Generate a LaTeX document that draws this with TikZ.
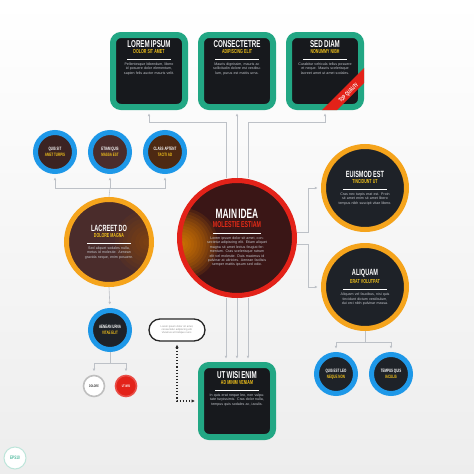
\documentclass[tikz,border=0pt]{standalone}
\usepackage{fontspec}
\setmainfont{Liberation Sans}
\newfontfamily\condfont{Liberation Sans}[FakeStretch=0.62]
\usetikzlibrary{arrows.meta,backgrounds,positioning}

\definecolor{linegray}{HTML}{BDC1C7}
\definecolor{boxgreen}{HTML}{22A784}
\definecolor{boxdark}{HTML}{17191D}
\definecolor{ringblue}{HTML}{1E98E8}
\definecolor{ringorange}{HTML}{F5A41C}
\definecolor{ringred}{HTML}{E32219}
\definecolor{navydark}{HTML}{1E2228}
\definecolor{maroon}{HTML}{3A1616}
\definecolor{browndark}{HTML}{4A2C2B}
\definecolor{gold}{HTML}{F2C21B}
\definecolor{bodygray}{HTML}{C3C6CC}

\newcommand{\hugettl}{\condfont\bfseries\fontsize{13.5}{14}\selectfont}
\newcommand{\bigttl}{\condfont\bfseries\fontsize{10}{11}\selectfont}
\newcommand{\midttl}{\condfont\bfseries\fontsize{9}{10}\selectfont}
\newcommand{\subttl}{\condfont\bfseries\fontsize{5.8}{6.4}\selectfont}
\newcommand{\smallttl}{\condfont\bfseries\fontsize{4.8}{5.6}\selectfont}
\newcommand{\bodytxt}{\fontsize{3.6}{4.4}\selectfont}
\newcommand{\tinytxt}{\fontsize{2.6}{3.2}\selectfont}
\newcommand{\whitebar}[1]{\textcolor{white}{\rule{#1}{0.9pt}}}

\tikzset{
  conn/.style={draw=linegray, line width=0.6pt},
  arr/.style={conn, -{Latex[length=2.6pt,width=2.8pt]}, shorten >=3.5pt},
  dotarr/.style={draw=black!85, line width=1.1pt, dotted,
    {Latex[length=3.5pt,width=3.5pt]}-{Latex[length=3.5pt,width=3.5pt]},
    shorten <=3pt, shorten >=3pt},
  card/.style={draw=boxgreen, line width=6pt, fill=boxdark,
    rounded corners=8pt, minimum size=72pt, inner sep=0pt},
  cardtext/.style={anchor=north, inner sep=0pt, text width=56pt,
    align=center, font=\bodytxt, text=bodygray},
  ringbig/.style={circle, line width=5pt, inner sep=0pt, align=center,
    text width=56pt, font=\bodytxt, text=bodygray},
  ringsmall/.style={circle, draw=ringblue, line width=5pt, minimum size=39pt,
    inner sep=0pt, align=center, font=\smallttl, text=white, fill=#1},
  ringsmall/.default=navydark,
  minicirc/.style={circle, line width=1.6pt, minimum size=21pt, inner sep=0pt,
    font=\condfont\bfseries\fontsize{3.6}{4}\selectfont},
}

\begin{document}
\begin{tikzpicture}[x=1pt,y=-1pt]
\useasboundingbox (0,0) rectangle (474,474);

% top cards
\node[card] (lorem) at (149,71) {};
\node[cardtext] (loremtxt) at ([yshift=-8pt]lorem.north)
  {{\bigttl\color{white}LOREM IPSUM}\\[2pt]{\subttl\color{gold}DOLOR SIT AMET}\\[1.5pt]
   \whitebar{44pt}\\[1.5pt]
   Pellentesque bibendum, libero id posuere dolor elementum, sapien felis auctor mauris velit.};
\node[card] (consec) at (237,71) {};
\node[cardtext] (consectxt) at ([yshift=-8pt]consec.north)
  {{\bigttl\color{white}CONSECTETRE}\\[2pt]{\subttl\color{gold}ADIPISCING ELIT}\\[1.5pt]
   \whitebar{44pt}\\[1.5pt]
   Mauris dignissim, mauris ac sollicitudin dolore est vestibulum, purus est mattis urna.};
\node[card] (seddiam) at (325,71) {};
\node[cardtext] (seddiamtxt) at ([yshift=-8pt]seddiam.north)
  {{\bigttl\color{white}SED DIAM}\\[2pt]{\subttl\color{gold}NONUMMY NIBH}\\[1.5pt]
   \whitebar{44pt}\\[1.5pt]
   Curabitur vehicula tellus posuere et neque. Mauris scelerisque laoreet amet ut amet sodales.};

% ribbon on the third card
\begin{scope}
  \clip[rounded corners=10pt] (seddiam.south west) rectangle (seddiam.north east);
  \fill[ringred] (308,124) -- (323,124) -- (392,55) -- (377,55) -- cycle;
\end{scope}
\node[rotate=45, text=white, inner sep=0pt, font=\condfont\bfseries\fontsize{6}{6}\selectfont]
  (topq) at (349,93) {TOP QUALITY};

% small blue circles
\node[ringsmall=browndark!80!black] (quis) at (55,152) {QUIS SIT\\{\color{gold}AMET TURPIS}};
\node[ringsmall=browndark] (etiam) at (110,152) {ETIAM QUIS\\{\color{gold}MASSA EST}};
\node[ringsmall=browndark!70!orange!60!black] (klass) at (165,152) {CLASS APTENT\\{\color{gold}TACITI AD}};

% big circles
\node[ringbig, draw=ringorange, fill=browndark, minimum size=85pt,
  path picture={\foreach \r in {4,8,...,32}
    \fill[orange!70!black, opacity=0.08] ([xshift=38pt]path picture bounding box.center) circle (\r pt);}]
  (lacreet) at (109,242)
  {{\midttl\color{white}LACREET DO}\\[2pt]{\subttl\color{gold}DOLORE MAGNA}\\[1.5pt]
   \whitebar{44pt}\\[1.5pt]
   Sed aliquet sodales nulla, metus id molestie. Aenean gravida neque, enim posuere.};
\node[ringbig, draw=ringred, fill=maroon, minimum size=115pt, text width=62pt,
  path picture={\foreach \r in {3,6,...,36}
    \fill[orange!85!yellow, opacity=0.1] ([xshift=-55pt,yshift=-6pt]path picture bounding box.center) circle (\r pt);}]
  (main) at (237,238)
  {{\hugettl\color{white}MAIN IDEA}\\[2pt]{\condfont\bfseries\fontsize{8.5}{9}\selectfont\color{ringred!90!orange}MOLESTIE ESTIAM}\\[1.5pt]
   \whitebar{48pt}\\[1.5pt]
   Lorem ipsum dolor sit amet, consectetur adipiscing elit. Etiam aliquet magna sit amet lectus feugiat fermentum. Cras scelerisque rutrum elit vel molestie. Duis maximus id pulvinar at ultricies. Aenean facilisis semper mattis ipsum sed odio.};
\node[ringbig, draw=ringorange, fill=navydark, minimum size=83pt] (euismod) at (365,188)
  {{\midttl\color{white}EUISMOD EST}\\[2pt]{\subttl\color{gold}TINCIDUNT UT}\\[1.5pt]
   \whitebar{44pt}\\[1.5pt]
   Cras nec turpis erat est. Proin sit amet enim sit amet libero tempus nibh suscipit vitae libero.};
\node[ringbig, draw=ringorange, fill=navydark, minimum size=83pt] (aliquam) at (365,287)
  {{\midttl\color{white}ALIQUAM}\\[2pt]{\subttl\color{gold}ERAT VOLUTPAT}\\[1.5pt]
   \whitebar{44pt}\\[1.5pt]
   Aliquam vel faucibus, nisi quis tincidunt dictum vestibulum, dui orci nibh pulvinar massa.};

% lower left
\node[ringsmall] (aenean) at (110,330) {AENEAN URNA\\{\color{gold}VITAE ELIT}};
\node[minicirc, draw=black!25, fill=white, text=black!80] (dolore) at (94,386) {DOLORE};
\node[minicirc, draw=ringred!80!white, fill=ringred, text=white] (utwisi) at (126,386) {UT WISI};
\node[draw=black!85, line width=1.3pt, fill=white, rounded corners=11pt, minimum width=56pt,
  minimum height=22pt, text width=46pt, align=center, inner sep=0pt, text=black!45, font=\tinytxt]
  (pill) at (177,330) {Lorem ipsum dolor sit amet, consectetur adipiscing elit. Vivamus at tristique nunc.};

% bottom card
\node[card] (utbox) at (237,401) {};
\node[cardtext] (utboxtxt) at ([yshift=-9pt]utbox.north)
  {{\bigttl\color{white}UT WISI ENIM}\\[2pt]{\subttl\color{gold}AD MINIM VENIAM}\\[1.5pt]
   \whitebar{44pt}\\[1.5pt]
   In quis erat neque leo, non vulputate turpissimis. Cras dolor nulla, tempus quis sodales ac, iaculis.};

% lower right
\node[ringsmall=navydark] (quisleo) at (336,374) {QUIS EST LEO\\{\color{gold}NEQUE NON}};
\node[ringsmall=navydark] (tempus) at (391,374) {TEMPUS QUIS\\{\color{gold}IACULIS}};

% badge
\node[circle, draw=boxgreen!30, line width=1pt, fill=white, minimum size=22pt, inner sep=0pt,
  text=boxgreen!80, font=\condfont\bfseries\fontsize{5}{5}\selectfont] (eps) at (15,458) {EPS10};

\coordinate (forkA) at (110,188);
\coordinate (forkB) at (110,363);
\coordinate (forkC) at (365,342);

\begin{scope}[on background layer]
  \shade[top color=white, bottom color=black!7] (0,0) rectangle (474,474);
  % main to top cards
  \draw[arr] ([xshift=-11pt]main.north) |- ([yshift=-12pt]lorem.south) -- (lorem.south);
  \draw[arr] (main.north) -- (consec.south);
  \draw[arr] ([xshift=11pt]main.north) |- ([yshift=-12pt]seddiam.south) -- (seddiam.south);
  % main to bottom card
  \draw[arr] ([xshift=-11pt]main.south) -- ([xshift=-11pt]utbox.north);
  \draw[arr] (main.south) -- (utbox.north);
  \draw[arr] ([xshift=11pt]main.south) -- ([xshift=11pt]utbox.north);
  % main to right circles
  \draw[arr] ([yshift=6pt]main.east) -- ++(11,0) |- (euismod.west);
  \draw[arr] ([yshift=-6pt]main.east) -- ++(11,0) |- (aliquam.west);
  % left branch
  \draw[conn] (lacreet.north) -- (forkA);
  \draw[arr] (forkA) -| (quis.south);
  \draw[arr] (forkA) -- (etiam.south);
  \draw[arr] (forkA) -| (klass.south);
  \draw[arr] (lacreet.south) -- (aenean.north);
  \draw[conn] (aenean.south) -- (forkB);
  \draw[arr] (forkB) -| (dolore.north);
  \draw[arr] (forkB) -| (utwisi.north);
  % right branch
  \draw[conn] (aliquam.south) -- (forkC);
  \draw[arr] (forkC) -| (quisleo.north);
  \draw[arr] (forkC) -| (tempus.north);
\end{scope}
\draw[dotarr] (pill.south) |- (utbox.west);
\end{tikzpicture}
\end{document}
